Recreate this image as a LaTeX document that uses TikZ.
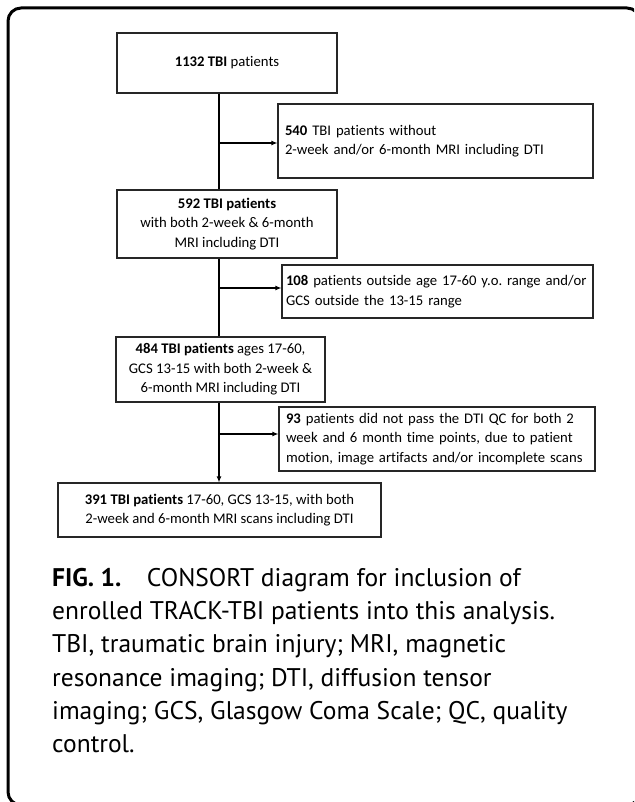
\documentclass[tikz,border=0pt]{standalone}
\usepackage{fontspec}
\setmainfont{Carlito}[Ligatures=NoCommon]
\newfontfamily\capfont{PT Sans}
\usetikzlibrary{arrows.meta}
\frenchspacing

\begin{document}
\begin{tikzpicture}[x=1pt,y=-1pt,>={Latex[length=6pt,width=5pt]},
  every node/.style={font=\fontsize{14.7}{19.5}\selectfont},
  box/.style={draw=black!85,line width=1.1pt,inner sep=0pt,align=center},
  sidebox/.style={box,align=left,inner xsep=7pt,text width=#1},
  flow/.style={line width=1.3pt,black}]
  \useasboundingbox (0,0) rectangle (634,802);
  \begin{scope}
    \clip (0,0) rectangle (634,802);
    \draw[line width=3pt,rounded corners=13pt] (8,8) rectangle (640,805);
  \end{scope}

  % main column
  \node[box,minimum width=220pt,minimum height=60pt] (n1132) at (227,63) {\textbf{1132 TBI} patients};
  \node[box,minimum width=220pt,minimum height=68pt] (n592) at (227,224) {\textbf{592 TBI patients}\\with both 2-week \& 6-month\\MRI including DTI};
  \node[box,minimum width=209pt,minimum height=65pt] (n484) at (220.5,369.5) {\textbf{484 TBI patients} ages 17-60,\\GCS 13-15 with both 2-week \&\\6-month MRI including DTI};
  \node[box,minimum width=323pt,minimum height=54pt] (n391) at (219.5,510) {\textbf{391 TBI patients} 17-60, GCS 13-15, with both\\2-week and 6-month MRI scans including DTI};

  % excluded
  \node[sidebox=301pt,minimum height=74pt] (x540) at (435.5,141) {\textbf{540} TBI patients without\\2-week and/or 6-month MRI including DTI};
  \node[sidebox=303pt,inner xsep=4pt,minimum height=53pt] (x108) at (437.5,291.5) {\textbf{108} patients outside age 17-60 y.o. range and/or\\GCS outside the 13-15 range};
  \node[sidebox=302pt,minimum height=64pt] (x93) at (437,439) {\textbf{93} patients did not pass the DTI QC for both 2\\week and 6 month time points, due to patient\\motion, image artifacts and/or incomplete scans};

  \coordinate (trunk) at (219,0);
  \coordinate (a540) at ([yshift=-2pt]x540.west);
  \coordinate (a108) at ([yshift=3.5pt]x108.west);
  \coordinate (a93) at ([yshift=5pt]x93.west);

  \draw[flow] (n1132.south -| trunk) -- (n592.north -| trunk);
  \draw[flow] (n592.south -| trunk) -- (n484.north -| trunk);
  \draw[flow,->] (n484.south -| trunk) -- (n391.north -| trunk);
  \draw[flow,->] (a540 -| trunk) -- (a540);
  \draw[flow,->] (a108 -| trunk) -- (a108);
  \draw[flow,->] (a93 -| trunk) -- (a93);

  % caption
  \node[anchor=north west,inner sep=0pt,align=left,font=\capfont\fontsize{25.5}{33.2}\selectfont] (caption) at (52,568)
    {\textbf{FIG. 1.}\quad CONSORT diagram for inclusion of\\
     enrolled TRACK-TBI patients into this analysis.\\
     TBI, traumatic brain injury; MRI, magnetic\\
     resonance imaging; DTI, diffusion tensor\\
     imaging; GCS, Glasgow Coma Scale; QC, quality\\
     control.};
\end{tikzpicture}
\end{document}
